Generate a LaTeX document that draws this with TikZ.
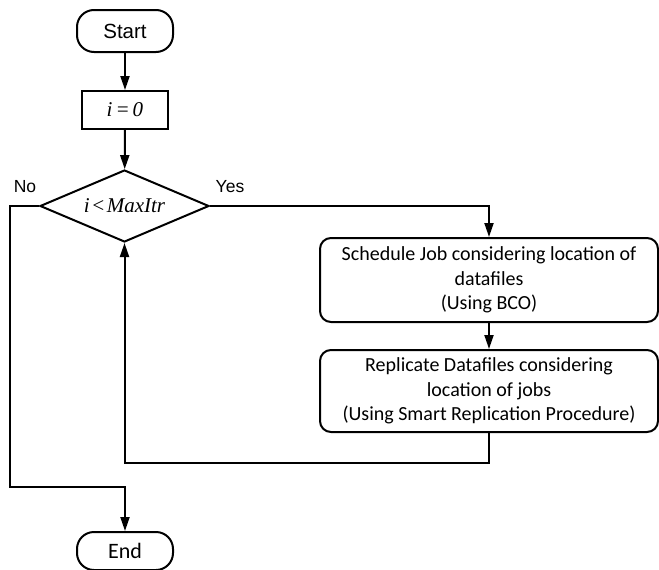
\documentclass[tikz,border=0pt]{standalone}
\usepackage{fontspec}
\setmainfont{Carlito}
\newfontfamily\arialf{Liberation Sans}
\newfontfamily\serifi{Liberation Serif}
\usetikzlibrary{shapes.geometric,arrows.meta,calc}
\begin{document}
\begin{tikzpicture}[x=1pt,y=-1pt,
  line width=2pt,
  arr/.style={-{Triangle[length=14pt,width=9pt]}},
  term/.style={draw,rounded corners=17pt,minimum width=96pt,inner sep=0pt},
  proc/.style={draw,rounded corners=11pt,minimum width=338pt,inner sep=0pt,align=center,font=\fontsize{20}{24.5}\selectfont},
  lbl/.style={font=\arialf\fontsize{17.5}{20}\selectfont,inner sep=0pt}]
\useasboundingbox (0,0) rectangle (659,570);
\node[term,minimum height=42pt,font=\arialf\fontsize{20.5}{24}\selectfont] (start) at (125,31) {Start};
\node[draw,minimum width=86pt,minimum height=38pt,inner sep=0pt,font=\serifi\itshape\fontsize{21}{24}\selectfont] (init) at (125,110) {i\hspace{3pt}=\hspace{3pt}0};
\node[draw,diamond,aspect=2.35,minimum width=169pt,minimum height=72pt,inner sep=0pt,font=\serifi\itshape\fontsize{21}{24}\selectfont] (dec) at (124.5,206) {i\hspace{1.5pt}<\hspace{1.5pt}MaxItr};
\node[proc,minimum height=84pt] (b1) at (489,280) {Schedule Job considering location of\\datafiles\\(Using BCO)};
\node[proc,minimum height=82pt] (b2) at (489,391) {Replicate Datafiles considering\\location of jobs\\(Using Smart Replication Procedure)};
\node[term,minimum height=38pt,font=\fontsize{22}{26}\selectfont] (endn) at (125,551) {End};
\node[lbl] (no) at (25,187) {No};
\node[lbl] (yes) at (230,187) {Yes};
\coordinate (c1) at (10,487);
\draw[arr] (start) -- (init);
\draw[arr] (init) -- (dec);
\draw[arr] (dec.east) -| (b1.north);
\draw[arr] (b1) -- (b2);
\draw[arr] (b2.south) -- ++(0,30) -| (dec.south);
\draw[arr] (dec.west) -| (c1) -| (endn.north);
\end{tikzpicture}
\end{document}
